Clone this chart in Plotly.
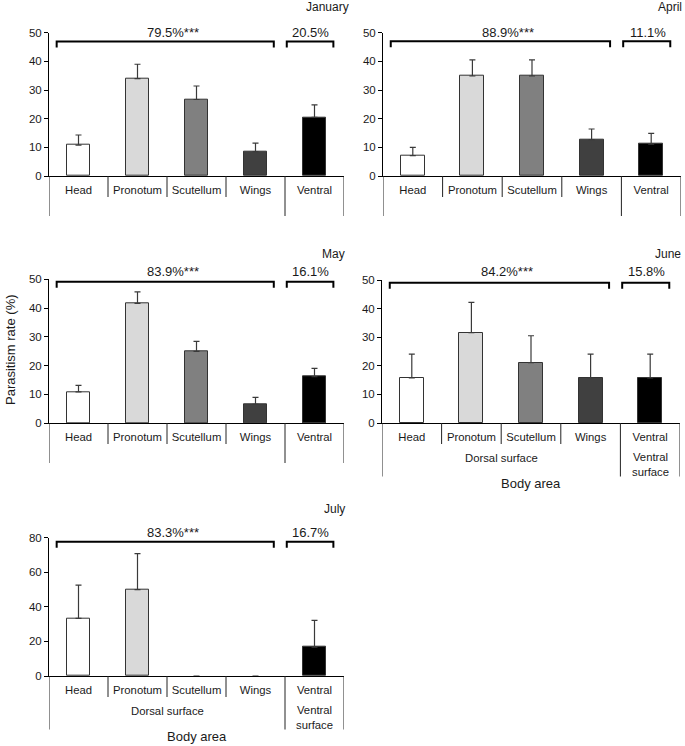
import plotly.graph_objects as go

# ---------------- data ----------------
categories = ["Head", "Pronotum", "Scutellum", "Wings", "Ventral"]
months = ["January", "April", "May", "June", "July"]

jan_rate = [10.8, 34.0, 26.7, 8.5, 20.5]
jan_err = [3.5, 5.0, 4.7, 3.0, 4.3]
apr_rate = [7.1, 34.9, 34.9, 12.7, 11.1]
apr_err = [2.9, 5.6, 5.6, 3.7, 3.8]
may_rate = [10.8, 41.6, 24.9, 6.5, 16.1]
may_err = [2.3, 4.0, 3.5, 2.4, 2.9]
jun_rate = [15.8, 31.6, 21.1, 15.8, 15.8]
jun_err = [8.3, 10.6, 9.4, 8.3, 8.3]
jul_rate = [33.3, 50.0, 0.0, 0.0, 16.7]
jul_err = [19.3, 20.8, None, None, 15.5]

dorsal_pct = ["79.5%***", "88.9%***", "83.9%***", "84.2%***", "83.3%***"]
ventral_pct = ["20.5%", "11.1%", "16.1%", "15.8%", "16.7%"]
y_max = [50, 50, 50, 50, 80]
y_step = [10, 10, 10, 10, 20]

bar_colors = ["#ffffff", "#d9d9d9", "#808080", "#404040", "#000000"]

# ---------------- layout geometry (pixels) ----------------
W, H = 685, 746
# left, right, top, bottom of each plot area
boxes = [
    (49, 344, 32.7, 176),
    (383, 681, 32.7, 176),
    (49, 344, 279.3, 423),
    (382, 680, 280, 423),
    (49, 344, 537.7, 676),
]
bracket_py = [41.5, 41.3, 281.7, 282.7, 541.7]
pct_py = [32.3, 32.3, 271.7, 271.7, 532.7]
title_pos = [(351, 7), (684, 7), (347, 254), (683, 254), (347, 509)]
surface_labels = [False, False, False, True, True]


def px(x):
    return x / W


def py(y):
    return 1 - y / H


FONT = "Liberation Sans, Arial, sans-serif"
TXT = "#1a1a1a"

rates = [jan_rate, apr_rate, may_rate, jun_rate, jul_rate]
errs = [jan_err, apr_err, may_err, jun_err, jul_err]

fig = go.Figure()
shapes = []
annotations = []
xpos = [i + 0.5 for i in range(len(categories))]

for i in range(5):
    xn = "x" if i == 0 else f"x{i+1}"
    yn = "y" if i == 0 else f"y{i+1}"
    l, r, t, b = boxes[i]
    fig.add_trace(go.Bar(
        x=xpos, y=rates[i], width=0.4,
        marker=dict(color=bar_colors,
                    line=dict(color="#333333",
                              width=[1 if v > 0 else 0 for v in rates[i]])),
        error_y=dict(type="data", symmetric=False, array=errs[i],
                     arrayminus=[0] * 5, color="#3a3a3a", thickness=1.2, width=3),
        xaxis=xn, yaxis=yn, showlegend=False, hoverinfo="skip",
    ))
    fig.layout[f"xaxis{'' if i == 0 else i+1}"] = dict(
        domain=[px(l), px(r)], anchor=yn, range=[0, 5], automargin=False,
        showline=True, linecolor="#000000", linewidth=1,
        showgrid=False, zeroline=False, ticks="",
        tickvals=xpos, ticktext=categories,
        tickfont=dict(family=FONT, size=11.3, color=TXT),
        ticklabelstandoff=3, fixedrange=True,
    )
    fig.layout[f"yaxis{'' if i == 0 else i+1}"] = dict(
        domain=[py(b), py(t)], anchor=xn, range=[0, y_max[i]], automargin=False,
        dtick=y_step[i], tick0=0,
        showline=True, linecolor="#000000", linewidth=1,
        showgrid=False, zeroline=False, ticks="outside", ticklen=4,
        tickcolor="#000000", tickwidth=1,
        tickfont=dict(family=FONT, size=11.5, color=TXT), fixedrange=True,
    )
    # separators below the axis
    long_len = 53.5 if surface_labels[i] else 40
    for k in range(6):
        length = long_len if k in (0, 4, 5) else 21
        shapes.append(dict(type="line", xref=xn, yref="paper",
                           x0=k, x1=k, y0=py(b), y1=py(b + length),
                           line=dict(color="#222222", width=1)))
    # brackets
    yb = py(bracket_py[i])
    yl = py(bracket_py[i] + 6)
    for a, c in ((0.13, 3.81), (4.03, 4.82)):
        shapes.append(dict(type="path", xref=xn, yref="paper",
                           path=f"M {a},{yl} L {a},{yb} L {c},{yb} L {c},{yl}",
                           line=dict(color="#000000", width=2)))
    annotations.append(dict(text=dorsal_pct[i], xref=xn, yref="paper",
                            x=2.1, y=py(pct_py[i]), showarrow=False,
                            xanchor="center", yanchor="middle",
                            font=dict(family=FONT, size=13, color=TXT)))
    annotations.append(dict(text=ventral_pct[i], xref=xn, yref="paper",
                            x=4.44, y=py(pct_py[i]), showarrow=False,
                            xanchor="center", yanchor="middle",
                            font=dict(family=FONT, size=13, color=TXT)))
    # month title
    tx, ty = title_pos[i]
    annotations.append(dict(text=months[i], xref="paper", yref="paper",
                            x=px(tx), y=py(ty), showarrow=False,
                            xanchor="right", yanchor="middle",
                            font=dict(family=FONT, size=12, color=TXT)))
    if surface_labels[i]:
        annotations.append(dict(text="Dorsal surface", xref=xn, yref="paper",
                                x=2, y=py(b + 34.5), showarrow=False,
                                xanchor="center", yanchor="middle",
                                font=dict(family=FONT, size=11.3, color=TXT)))
        annotations.append(dict(text="Ventral<br>surface", xref=xn, yref="paper",
                                x=4.5, y=py(b + 41), showarrow=False,
                                xanchor="center", yanchor="middle",
                                font=dict(family=FONT, size=11.3, color=TXT)))
        annotations.append(dict(text="Body area", xref=xn, yref="paper",
                                x=2.5, y=py(b + 60), showarrow=False,
                                xanchor="center", yanchor="middle",
                                font=dict(family=FONT, size=13, color=TXT)))

annotations.append(dict(text="Parasitism rate (%)", xref="paper", yref="paper",
                        x=px(10), y=py(350), textangle=-90, showarrow=False,
                        xanchor="center", yanchor="middle",
                        font=dict(family=FONT, size=13, color=TXT)))

fig.update_layout(
    template="none",
    width=W, height=H, margin=dict(l=0, r=0, t=0, b=0, pad=0, autoexpand=False),
    paper_bgcolor="#ffffff", plot_bgcolor="#ffffff",
    shapes=shapes, annotations=annotations, bargap=0,
)

fig.write_html(
    "out.html",
    config={"displayModeBar": False},
    post_script="document.body.style.margin='0';document.body.style.overflow='hidden';",
)
